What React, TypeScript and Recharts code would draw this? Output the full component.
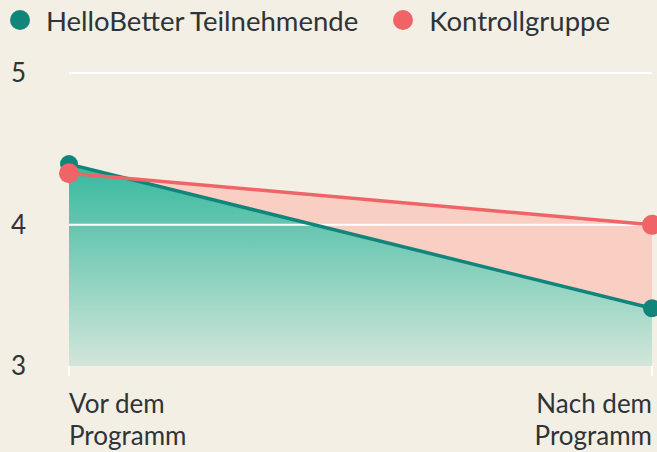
import React from 'react';
import {
  ComposedChart,
  Area,
  Line,
  XAxis,
  YAxis,
  ReferenceLine,
} from 'recharts';

const zeitpunkte = ['Vor dem Programm', 'Nach dem Programm'];
const helloBetter = [4.4, 3.45];
const kontrollgruppe = [4.34, 4.0];
const yTicks = [3.07, 4, 5];

const TEAL = '#12857a';
const RED = '#ef6467';
const BG = '#f3efe4';
const TEXT = '#2e3437';
const FONT = 'Lato, "Open Sans", sans-serif';

const data = zeitpunkte.map((name, i) => ({
  name,
  hb: helloBetter[i],
  kg: kontrollgruppe[i],
}));

const XTick = (props: any) => {
  const { x, y, payload, index } = props;
  const words = String(payload.value).split(' ');
  const lines = [words.slice(0, 2).join(' '), words.slice(2).join(' ')];
  const anchor = index === 0 ? 'start' : 'end';
  return (
    <text
      x={x}
      y={y + 35}
      textAnchor={anchor}
      fill={TEXT}
      fontSize={26}
      fontFamily={FONT}
    >
      {lines.map((l, i) => (
        <tspan key={i} x={x} dy={i === 0 ? 0 : 32}>
          {l}
        </tspan>
      ))}
    </text>
  );
};

const YTick = (props: any) => {
  const { y, payload } = props;
  return (
    <text
      x={11}
      y={y}
      dy={9}
      textAnchor="start"
      fill={TEXT}
      fontSize={26}
      fontFamily={FONT}
    >
      {Math.round(payload.value)}
    </text>
  );
};

const LegendItem = ({ color, label }: { color: string; label: string }) => (
  <div style={{ display: 'flex', alignItems: 'center', marginRight: 35 }}>
    <span
      style={{
        width: 20,
        height: 20,
        borderRadius: '50%',
        background: color,
        display: 'inline-block',
        marginRight: 16,
      }}
    />
    <span>{label}</span>
  </div>
);

export default function App() {
  return (
    <div
      style={{
        position: 'absolute',
        left: 0,
        top: 0,
        width: 657,
        height: 452,
        background: BG,
        overflow: 'hidden',
        fontFamily: FONT,
      }}
    >
      <div
        style={{
          position: 'absolute',
          left: 10,
          top: 3,
          display: 'flex',
          fontSize: 27.5,
          color: TEXT,
          height: 34,
        }}
      >
        <LegendItem color={TEAL} label="HelloBetter Teilnehmende" />
        <LegendItem color={RED} label="Kontrollgruppe" />
      </div>
      <ComposedChart
        width={657}
        height={452}
        data={data}
        margin={{ top: 73, right: 5, bottom: 0, left: 0 }}
      >
        <defs>
          <linearGradient id="tealFill" x1="0" y1="0" x2="0" y2="1">
            <stop offset="0%" stopColor="#35b89e" />
            <stop offset="100%" stopColor="#d3e6da" />
          </linearGradient>
        </defs>
        <XAxis
          dataKey="name"
          scale="point"
          axisLine={false}
          tickLine={{ stroke: '#ffffff', strokeWidth: 2 }}
          tickSize={10}
          height={86}
          tick={<XTick />}
          interval={0}
        />
        <YAxis
          domain={[3.07, 5]}
          ticks={yTicks}
          axisLine={false}
          tickLine={false}
          width={69}
          tick={<YTick />}
        />
        <Area
          type="linear"
          dataKey="kg"
          stroke="none"
          fill="#f9cfc4"
          fillOpacity={1}
          isAnimationActive={false}
        />
        <Area
          type="linear"
          dataKey="hb"
          stroke="none"
          fill="url(#tealFill)"
          fillOpacity={1}
          isAnimationActive={false}
        />
        <ReferenceLine y={5} stroke="#ffffff" strokeWidth={2} />
        <ReferenceLine y={4} stroke="#ffffff" strokeWidth={2} />
        <Line
          type="linear"
          dataKey="hb"
          stroke={TEAL}
          strokeWidth={3.5}
          dot={{ r: 9, fill: TEAL, stroke: 'none' }}
          isAnimationActive={false}
        />
        <Line
          type="linear"
          dataKey="kg"
          stroke={RED}
          strokeWidth={3.5}
          dot={{ r: 10, fill: RED, stroke: 'none' }}
          isAnimationActive={false}
        />
      </ComposedChart>
    </div>
  );
}
